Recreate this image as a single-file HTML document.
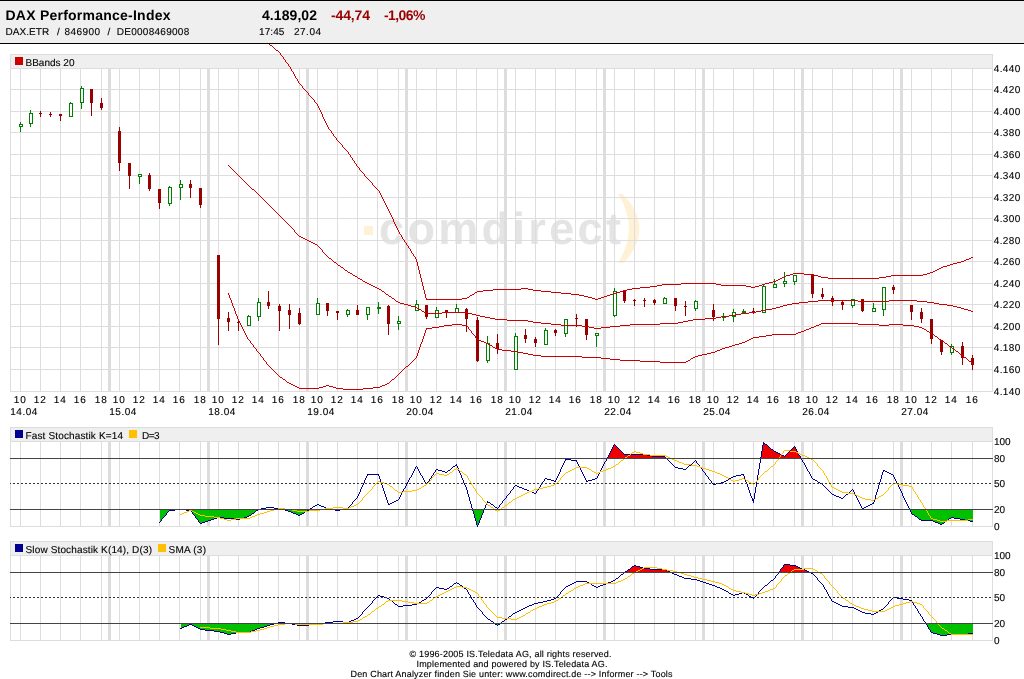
<!DOCTYPE html>
<html lang="de"><head><meta charset="utf-8"><title>DAX Performance-Index</title>
<style>html,body{margin:0;padding:0;background:#fff;overflow:hidden}svg{display:block;will-change:transform}text{font-family:"Liberation Sans",Arial,sans-serif;white-space:pre;text-rendering:geometricPrecision}</style></head>
<body>
<svg width="1024" height="679" viewBox="0 0 1024 679" font-family="'Liberation Sans', Arial, sans-serif" shape-rendering="crispEdges">
<rect x="0" y="0" width="1024" height="679" fill="#ffffff"/>
<g shape-rendering="auto">
<rect x="364" y="226" width="9" height="9" fill="#fff1d6"/>
<text x="379" y="243.5" font-size="45" font-weight="bold" fill="#e4e4e4" textLength="242" lengthAdjust="spacing">comdirect</text>
<path d="M618 194 L622.5 194 Q656 228 623.5 263 L618 263 Q640 228 618 194 Z" fill="#fff1d6"/>
</g>
<rect x="10" y="54" width="983" height="14" fill="#efefef"/>
<rect x="108" y="68" width="3" height="323" fill="#dddddd"/>
<rect x="207" y="68" width="3" height="323" fill="#dddddd"/>
<rect x="306" y="68" width="3" height="323" fill="#dddddd"/>
<rect x="405" y="68" width="3" height="323" fill="#dddddd"/>
<rect x="504" y="68" width="3" height="323" fill="#dddddd"/>
<rect x="603" y="68" width="3" height="323" fill="#dddddd"/>
<rect x="702" y="68" width="3" height="323" fill="#dddddd"/>
<rect x="801" y="68" width="3" height="323" fill="#dddddd"/>
<rect x="900" y="68" width="3" height="323" fill="#dddddd"/>
<rect x="20" y="68" width="1" height="323" fill="#dddddd"/>
<rect x="40" y="68" width="1" height="323" fill="#dddddd"/>
<rect x="60" y="68" width="1" height="323" fill="#dddddd"/>
<rect x="80" y="68" width="1" height="323" fill="#dddddd"/>
<rect x="101" y="68" width="1" height="323" fill="#dddddd"/>
<rect x="119" y="68" width="1" height="323" fill="#dddddd"/>
<rect x="139" y="68" width="1" height="323" fill="#dddddd"/>
<rect x="159" y="68" width="1" height="323" fill="#dddddd"/>
<rect x="179" y="68" width="1" height="323" fill="#dddddd"/>
<rect x="200" y="68" width="1" height="323" fill="#dddddd"/>
<rect x="218" y="68" width="1" height="323" fill="#dddddd"/>
<rect x="238" y="68" width="1" height="323" fill="#dddddd"/>
<rect x="258" y="68" width="1" height="323" fill="#dddddd"/>
<rect x="278" y="68" width="1" height="323" fill="#dddddd"/>
<rect x="299" y="68" width="1" height="323" fill="#dddddd"/>
<rect x="317" y="68" width="1" height="323" fill="#dddddd"/>
<rect x="337" y="68" width="1" height="323" fill="#dddddd"/>
<rect x="357" y="68" width="1" height="323" fill="#dddddd"/>
<rect x="377" y="68" width="1" height="323" fill="#dddddd"/>
<rect x="398" y="68" width="1" height="323" fill="#dddddd"/>
<rect x="416" y="68" width="1" height="323" fill="#dddddd"/>
<rect x="436" y="68" width="1" height="323" fill="#dddddd"/>
<rect x="456" y="68" width="1" height="323" fill="#dddddd"/>
<rect x="476" y="68" width="1" height="323" fill="#dddddd"/>
<rect x="497" y="68" width="1" height="323" fill="#dddddd"/>
<rect x="515" y="68" width="1" height="323" fill="#dddddd"/>
<rect x="535" y="68" width="1" height="323" fill="#dddddd"/>
<rect x="555" y="68" width="1" height="323" fill="#dddddd"/>
<rect x="575" y="68" width="1" height="323" fill="#dddddd"/>
<rect x="596" y="68" width="1" height="323" fill="#dddddd"/>
<rect x="614" y="68" width="1" height="323" fill="#dddddd"/>
<rect x="634" y="68" width="1" height="323" fill="#dddddd"/>
<rect x="654" y="68" width="1" height="323" fill="#dddddd"/>
<rect x="674" y="68" width="1" height="323" fill="#dddddd"/>
<rect x="695" y="68" width="1" height="323" fill="#dddddd"/>
<rect x="713" y="68" width="1" height="323" fill="#dddddd"/>
<rect x="733" y="68" width="1" height="323" fill="#dddddd"/>
<rect x="753" y="68" width="1" height="323" fill="#dddddd"/>
<rect x="773" y="68" width="1" height="323" fill="#dddddd"/>
<rect x="794" y="68" width="1" height="323" fill="#dddddd"/>
<rect x="812" y="68" width="1" height="323" fill="#dddddd"/>
<rect x="832" y="68" width="1" height="323" fill="#dddddd"/>
<rect x="852" y="68" width="1" height="323" fill="#dddddd"/>
<rect x="872" y="68" width="1" height="323" fill="#dddddd"/>
<rect x="893" y="68" width="1" height="323" fill="#dddddd"/>
<rect x="911" y="68" width="1" height="323" fill="#dddddd"/>
<rect x="931" y="68" width="1" height="323" fill="#dddddd"/>
<rect x="951" y="68" width="1" height="323" fill="#dddddd"/>
<rect x="972" y="68" width="1" height="323" fill="#dddddd"/>
<rect x="10" y="89" width="983" height="1" fill="#dddddd"/>
<rect x="10" y="111" width="983" height="1" fill="#dddddd"/>
<rect x="10" y="132" width="983" height="1" fill="#dddddd"/>
<rect x="10" y="154" width="983" height="1" fill="#dddddd"/>
<rect x="10" y="175" width="983" height="1" fill="#dddddd"/>
<rect x="10" y="197" width="983" height="1" fill="#dddddd"/>
<rect x="10" y="218" width="983" height="1" fill="#dddddd"/>
<rect x="10" y="240" width="983" height="1" fill="#dddddd"/>
<rect x="10" y="261" width="983" height="1" fill="#dddddd"/>
<rect x="10" y="283" width="983" height="1" fill="#dddddd"/>
<rect x="10" y="304" width="983" height="1" fill="#dddddd"/>
<rect x="10" y="326" width="983" height="1" fill="#dddddd"/>
<rect x="10" y="347" width="983" height="1" fill="#dddddd"/>
<rect x="10" y="369" width="983" height="1" fill="#dddddd"/>
<rect x="10" y="54" width="983" height="1" fill="#dddddd"/>
<rect x="10" y="68" width="983" height="1" fill="#dddddd"/>
<rect x="10" y="391" width="983" height="1" fill="#dddddd"/>
<rect x="10" y="54" width="1" height="338" fill="#dddddd"/>
<rect x="992" y="54" width="1" height="338" fill="#dddddd"/>
<rect x="20" y="122" width="1" height="10" fill="#008000"/>
<rect x="19" y="124" width="4" height="3" fill="#008000"/>
<rect x="20" y="125" width="2" height="1" fill="#ffffff"/>
<rect x="30" y="110" width="1" height="17" fill="#008000"/>
<rect x="29" y="113" width="4" height="11" fill="#008000"/>
<rect x="30" y="114" width="2" height="9" fill="#ffffff"/>
<rect x="40" y="111" width="1" height="6" fill="#990000"/>
<rect x="39" y="113" width="3" height="1" fill="#990000"/>
<rect x="50" y="112" width="1" height="5" fill="#990000"/>
<rect x="49" y="114" width="3" height="1" fill="#990000"/>
<rect x="60" y="114" width="1" height="7" fill="#990000"/>
<rect x="59" y="114" width="3" height="2" fill="#990000"/>
<rect x="70" y="102" width="1" height="15" fill="#008000"/>
<rect x="69" y="103" width="4" height="14" fill="#008000"/>
<rect x="70" y="104" width="2" height="12" fill="#ffffff"/>
<rect x="81" y="86" width="1" height="23" fill="#008000"/>
<rect x="80" y="88" width="4" height="15" fill="#008000"/>
<rect x="81" y="89" width="2" height="13" fill="#ffffff"/>
<rect x="91" y="89" width="1" height="27" fill="#990000"/>
<rect x="90" y="89" width="3" height="14" fill="#990000"/>
<rect x="101" y="98" width="1" height="12" fill="#990000"/>
<rect x="100" y="103" width="3" height="5" fill="#990000"/>
<rect x="119" y="127" width="1" height="44" fill="#990000"/>
<rect x="118" y="131" width="3" height="32" fill="#990000"/>
<rect x="129" y="163" width="1" height="26" fill="#990000"/>
<rect x="128" y="163" width="3" height="13" fill="#990000"/>
<rect x="139" y="174" width="1" height="10" fill="#008000"/>
<rect x="138" y="174" width="4" height="3" fill="#008000"/>
<rect x="139" y="175" width="2" height="1" fill="#ffffff"/>
<rect x="149" y="173" width="1" height="18" fill="#990000"/>
<rect x="148" y="175" width="3" height="14" fill="#990000"/>
<rect x="159" y="189" width="1" height="20" fill="#990000"/>
<rect x="158" y="189" width="3" height="14" fill="#990000"/>
<rect x="169" y="186" width="1" height="20" fill="#008000"/>
<rect x="168" y="187" width="4" height="17" fill="#008000"/>
<rect x="169" y="188" width="2" height="15" fill="#ffffff"/>
<rect x="180" y="180" width="1" height="20" fill="#008000"/>
<rect x="179" y="184" width="4" height="4" fill="#008000"/>
<rect x="180" y="185" width="2" height="2" fill="#ffffff"/>
<rect x="190" y="180" width="1" height="18" fill="#990000"/>
<rect x="189" y="184" width="3" height="4" fill="#990000"/>
<rect x="200" y="188" width="1" height="20" fill="#990000"/>
<rect x="199" y="188" width="3" height="17" fill="#990000"/>
<rect x="218" y="255" width="1" height="90" fill="#990000"/>
<rect x="217" y="255" width="3" height="64" fill="#990000"/>
<rect x="228" y="312" width="1" height="19" fill="#990000"/>
<rect x="227" y="318" width="3" height="4" fill="#990000"/>
<rect x="238" y="320" width="1" height="11" fill="#990000"/>
<rect x="237" y="322" width="3" height="1" fill="#990000"/>
<rect x="248" y="315" width="1" height="11" fill="#008000"/>
<rect x="247" y="316" width="4" height="10" fill="#008000"/>
<rect x="248" y="317" width="2" height="8" fill="#ffffff"/>
<rect x="258" y="298" width="1" height="23" fill="#008000"/>
<rect x="257" y="302" width="4" height="15" fill="#008000"/>
<rect x="258" y="303" width="2" height="13" fill="#ffffff"/>
<rect x="268" y="291" width="1" height="18" fill="#990000"/>
<rect x="267" y="302" width="3" height="4" fill="#990000"/>
<rect x="279" y="304" width="1" height="27" fill="#990000"/>
<rect x="278" y="306" width="3" height="5" fill="#990000"/>
<rect x="289" y="304" width="1" height="25" fill="#990000"/>
<rect x="288" y="310" width="3" height="5" fill="#990000"/>
<rect x="299" y="308" width="1" height="17" fill="#990000"/>
<rect x="298" y="313" width="3" height="11" fill="#990000"/>
<rect x="317" y="298" width="1" height="17" fill="#008000"/>
<rect x="316" y="303" width="4" height="12" fill="#008000"/>
<rect x="317" y="304" width="2" height="10" fill="#ffffff"/>
<rect x="327" y="303" width="1" height="13" fill="#990000"/>
<rect x="326" y="303" width="3" height="8" fill="#990000"/>
<rect x="337" y="311" width="1" height="9" fill="#990000"/>
<rect x="336" y="311" width="3" height="2" fill="#990000"/>
<rect x="347" y="309" width="1" height="8" fill="#008000"/>
<rect x="346" y="310" width="4" height="5" fill="#008000"/>
<rect x="347" y="311" width="2" height="3" fill="#ffffff"/>
<rect x="357" y="305" width="1" height="10" fill="#990000"/>
<rect x="356" y="310" width="3" height="5" fill="#990000"/>
<rect x="367" y="307" width="1" height="13" fill="#008000"/>
<rect x="366" y="307" width="4" height="8" fill="#008000"/>
<rect x="367" y="308" width="2" height="6" fill="#ffffff"/>
<rect x="378" y="302" width="1" height="12" fill="#008000"/>
<rect x="377" y="307" width="4" height="2" fill="#008000"/>
<rect x="388" y="305" width="1" height="30" fill="#990000"/>
<rect x="387" y="306" width="3" height="18" fill="#990000"/>
<rect x="398" y="316" width="1" height="14" fill="#008000"/>
<rect x="397" y="321" width="4" height="3" fill="#008000"/>
<rect x="398" y="322" width="2" height="1" fill="#ffffff"/>
<rect x="416" y="300" width="1" height="11" fill="#008000"/>
<rect x="415" y="304" width="4" height="7" fill="#008000"/>
<rect x="416" y="305" width="2" height="5" fill="#ffffff"/>
<rect x="426" y="305" width="1" height="14" fill="#990000"/>
<rect x="425" y="305" width="3" height="12" fill="#990000"/>
<rect x="436" y="307" width="1" height="11" fill="#008000"/>
<rect x="435" y="310" width="4" height="8" fill="#008000"/>
<rect x="436" y="311" width="2" height="6" fill="#ffffff"/>
<rect x="446" y="310" width="1" height="8" fill="#990000"/>
<rect x="445" y="310" width="3" height="3" fill="#990000"/>
<rect x="456" y="304" width="1" height="9" fill="#008000"/>
<rect x="455" y="308" width="4" height="5" fill="#008000"/>
<rect x="456" y="309" width="2" height="3" fill="#ffffff"/>
<rect x="466" y="308" width="1" height="24" fill="#990000"/>
<rect x="465" y="309" width="3" height="10" fill="#990000"/>
<rect x="477" y="317" width="1" height="45" fill="#990000"/>
<rect x="476" y="320" width="3" height="41" fill="#990000"/>
<rect x="487" y="336" width="1" height="27" fill="#008000"/>
<rect x="486" y="343" width="4" height="18" fill="#008000"/>
<rect x="487" y="344" width="2" height="16" fill="#ffffff"/>
<rect x="497" y="334" width="1" height="20" fill="#990000"/>
<rect x="496" y="343" width="3" height="6" fill="#990000"/>
<rect x="515" y="333" width="1" height="37" fill="#008000"/>
<rect x="514" y="336" width="4" height="34" fill="#008000"/>
<rect x="515" y="337" width="2" height="32" fill="#ffffff"/>
<rect x="525" y="329" width="1" height="14" fill="#990000"/>
<rect x="524" y="335" width="3" height="4" fill="#990000"/>
<rect x="535" y="337" width="1" height="10" fill="#990000"/>
<rect x="534" y="339" width="3" height="4" fill="#990000"/>
<rect x="545" y="328" width="1" height="17" fill="#008000"/>
<rect x="544" y="330" width="4" height="15" fill="#008000"/>
<rect x="545" y="331" width="2" height="13" fill="#ffffff"/>
<rect x="555" y="329" width="1" height="7" fill="#990000"/>
<rect x="554" y="330" width="3" height="3" fill="#990000"/>
<rect x="565" y="319" width="1" height="18" fill="#008000"/>
<rect x="564" y="319" width="4" height="15" fill="#008000"/>
<rect x="565" y="320" width="2" height="13" fill="#ffffff"/>
<rect x="576" y="314" width="1" height="13" fill="#990000"/>
<rect x="575" y="318" width="3" height="1" fill="#990000"/>
<rect x="586" y="319" width="1" height="21" fill="#990000"/>
<rect x="585" y="319" width="3" height="16" fill="#990000"/>
<rect x="596" y="333" width="1" height="14" fill="#008000"/>
<rect x="595" y="333" width="4" height="3" fill="#008000"/>
<rect x="596" y="334" width="2" height="1" fill="#ffffff"/>
<rect x="614" y="288" width="1" height="29" fill="#008000"/>
<rect x="613" y="291" width="4" height="25" fill="#008000"/>
<rect x="614" y="292" width="2" height="23" fill="#ffffff"/>
<rect x="624" y="290" width="1" height="13" fill="#990000"/>
<rect x="623" y="290" width="3" height="11" fill="#990000"/>
<rect x="634" y="299" width="1" height="7" fill="#990000"/>
<rect x="633" y="300" width="3" height="1" fill="#990000"/>
<rect x="644" y="298" width="1" height="9" fill="#990000"/>
<rect x="643" y="300" width="3" height="1" fill="#990000"/>
<rect x="654" y="299" width="1" height="6" fill="#990000"/>
<rect x="653" y="300" width="3" height="3" fill="#990000"/>
<rect x="664" y="297" width="1" height="7" fill="#008000"/>
<rect x="663" y="298" width="4" height="6" fill="#008000"/>
<rect x="664" y="299" width="2" height="4" fill="#ffffff"/>
<rect x="675" y="298" width="1" height="13" fill="#990000"/>
<rect x="674" y="298" width="3" height="8" fill="#990000"/>
<rect x="685" y="301" width="1" height="15" fill="#990000"/>
<rect x="684" y="306" width="3" height="1" fill="#990000"/>
<rect x="695" y="300" width="1" height="11" fill="#008000"/>
<rect x="694" y="301" width="4" height="8" fill="#008000"/>
<rect x="695" y="302" width="2" height="6" fill="#ffffff"/>
<rect x="713" y="304" width="1" height="17" fill="#990000"/>
<rect x="712" y="310" width="3" height="7" fill="#990000"/>
<rect x="723" y="313" width="1" height="8" fill="#008000"/>
<rect x="722" y="316" width="4" height="2" fill="#008000"/>
<rect x="733" y="309" width="1" height="13" fill="#008000"/>
<rect x="732" y="312" width="4" height="5" fill="#008000"/>
<rect x="733" y="313" width="2" height="3" fill="#ffffff"/>
<rect x="743" y="309" width="1" height="5" fill="#008000"/>
<rect x="742" y="311" width="4" height="2" fill="#008000"/>
<rect x="753" y="308" width="1" height="6" fill="#990000"/>
<rect x="752" y="311" width="3" height="2" fill="#990000"/>
<rect x="763" y="285" width="1" height="28" fill="#008000"/>
<rect x="762" y="286" width="4" height="27" fill="#008000"/>
<rect x="763" y="287" width="2" height="25" fill="#ffffff"/>
<rect x="774" y="279" width="1" height="9" fill="#008000"/>
<rect x="773" y="284" width="4" height="4" fill="#008000"/>
<rect x="774" y="285" width="2" height="2" fill="#ffffff"/>
<rect x="784" y="272" width="1" height="15" fill="#008000"/>
<rect x="783" y="281" width="4" height="3" fill="#008000"/>
<rect x="784" y="282" width="2" height="1" fill="#ffffff"/>
<rect x="794" y="275" width="1" height="10" fill="#008000"/>
<rect x="793" y="275" width="4" height="7" fill="#008000"/>
<rect x="794" y="276" width="2" height="5" fill="#ffffff"/>
<rect x="812" y="274" width="1" height="24" fill="#990000"/>
<rect x="811" y="274" width="3" height="20" fill="#990000"/>
<rect x="822" y="288" width="1" height="11" fill="#990000"/>
<rect x="821" y="294" width="3" height="3" fill="#990000"/>
<rect x="832" y="296" width="1" height="10" fill="#990000"/>
<rect x="831" y="298" width="3" height="4" fill="#990000"/>
<rect x="842" y="301" width="1" height="9" fill="#990000"/>
<rect x="841" y="302" width="3" height="3" fill="#990000"/>
<rect x="852" y="299" width="1" height="9" fill="#008000"/>
<rect x="851" y="299" width="4" height="7" fill="#008000"/>
<rect x="852" y="300" width="2" height="5" fill="#ffffff"/>
<rect x="862" y="299" width="1" height="13" fill="#990000"/>
<rect x="861" y="299" width="3" height="12" fill="#990000"/>
<rect x="873" y="303" width="1" height="9" fill="#008000"/>
<rect x="872" y="308" width="4" height="4" fill="#008000"/>
<rect x="873" y="309" width="2" height="2" fill="#ffffff"/>
<rect x="883" y="287" width="1" height="29" fill="#008000"/>
<rect x="882" y="287" width="4" height="23" fill="#008000"/>
<rect x="883" y="288" width="2" height="21" fill="#ffffff"/>
<rect x="893" y="285" width="1" height="9" fill="#990000"/>
<rect x="892" y="287" width="3" height="3" fill="#990000"/>
<rect x="911" y="305" width="1" height="15" fill="#990000"/>
<rect x="910" y="305" width="3" height="7" fill="#990000"/>
<rect x="921" y="308" width="1" height="15" fill="#990000"/>
<rect x="920" y="312" width="3" height="7" fill="#990000"/>
<rect x="931" y="319" width="1" height="25" fill="#990000"/>
<rect x="930" y="319" width="3" height="20" fill="#990000"/>
<rect x="941" y="340" width="1" height="15" fill="#990000"/>
<rect x="940" y="340" width="3" height="12" fill="#990000"/>
<rect x="951" y="344" width="1" height="11" fill="#008000"/>
<rect x="950" y="346" width="4" height="7" fill="#008000"/>
<rect x="951" y="347" width="2" height="5" fill="#ffffff"/>
<rect x="962" y="342" width="1" height="23" fill="#990000"/>
<rect x="961" y="346" width="3" height="12" fill="#990000"/>
<rect x="972" y="355" width="1" height="15" fill="#990000"/>
<rect x="971" y="358" width="3" height="7" fill="#990000"/>
<path d="M425.5 294v4M418.5 266v4M421.5 278v4M393.5 219v3M424.5 290v4M417.5 262v4M423.5 286v4M420.5 274v4M322.5 114v3M419.5 270v4M422.5 282v4M416.5 259v3M228 10.5h1M229 11.5h1M230 12.5h2M232 13.5h1M233 14.5h1M234 15.5h1M235 16.5h2M237 17.5h1M238 18.5h1M239 19.5h1M240 20.5h1M241 21.5h1M242 22.5h2M244 23.5h1M245 24.5h1M246 25.5h1M247 26.5h1M248 27.5h1M249 28.5h1M250 29.5h2M252 30.5h1M253 31.5h1M254 32.5h1M255 33.5h2M257 34.5h1M258 35.5h1M259 36.5h1M260 37.5h2M262 38.5h1M263 39.5h1M264 40.5h1M265 41.5h2M267 42.5h1M268 43.5h1M269 44.5h1M270 45.5h2M272 46.5h1M273 47.5h1M274 48.5h1M275 49.5h1M276 50.5h2M278 51.5h1M279 52.5h1M280 53.5h1M280 54.5h1M281 55.5h1M282 56.5h1M283 57.5h1M283 58.5h1M284 59.5h1M285 60.5h1M285 61.5h1M286 62.5h1M287 63.5h1M288 64.5h1M288 65.5h1M289 66.5h1M290 67.5h1M290 68.5h1M291 69.5h1M291 70.5h1M292 71.5h1M293 72.5h1M293 73.5h1M294 74.5h1M294 75.5h1M295 76.5h1M295 77.5h1M296 78.5h1M297 79.5h1M297 80.5h1M298 81.5h1M298 82.5h1M299 83.5h1M300 84.5h1M301 85.5h1M302 86.5h1M302 87.5h1M303 88.5h1M304 89.5h1M305 90.5h1M306 91.5h1M307 92.5h1M308 93.5h1M308 94.5h1M309 95.5h1M310 96.5h1M311 97.5h1M312 98.5h1M313 99.5h1M314 100.5h1M314 101.5h1M315 102.5h1M316 103.5h1M317 104.5h1M317 105.5h1M318 106.5h1M318 107.5h1M319 108.5h1M319 109.5h1M320 110.5h1M320 111.5h1M321 112.5h1M321 113.5h1M323 117.5h1M323 118.5h1M324 119.5h1M324 120.5h1M325 121.5h1M325 122.5h1M326 123.5h1M326 124.5h1M327 125.5h1M327 126.5h1M328 127.5h1M328 128.5h1M329 129.5h1M330 130.5h1M331 131.5h1M331 132.5h1M332 133.5h1M333 134.5h1M333 135.5h1M334 136.5h1M335 137.5h1M336 138.5h1M336 139.5h1M337 140.5h1M338 141.5h1M339 142.5h1M340 143.5h1M341 144.5h1M342 145.5h1M342 146.5h1M343 147.5h1M344 148.5h1M345 149.5h1M346 150.5h1M347 151.5h1M348 152.5h1M348 153.5h1M349 154.5h1M350 155.5h1M350 156.5h1M351 157.5h1M352 158.5h1M352 159.5h1M353 160.5h1M354 161.5h1M354 162.5h1M355 163.5h1M356 164.5h1M356 165.5h1M357 166.5h1M358 167.5h1M359 168.5h1M359 169.5h1M360 170.5h1M361 171.5h1M362 172.5h1M363 173.5h1M364 174.5h1M364 175.5h1M365 176.5h1M366 177.5h1M367 178.5h1M368 179.5h1M369 180.5h1M370 181.5h1M371 182.5h1M372 183.5h1M372 184.5h1M373 185.5h1M374 186.5h1M375 187.5h1M376 188.5h1M377 189.5h1M378 190.5h1M379 191.5h1M379 192.5h1M380 193.5h1M380 194.5h1M381 195.5h1M381 196.5h1M382 197.5h1M382 198.5h1M383 199.5h1M383 200.5h1M384 201.5h1M384 202.5h1M385 203.5h1M385 204.5h1M386 205.5h1M386 206.5h1M387 207.5h1M387 208.5h1M388 209.5h1M388 210.5h1M389 211.5h1M389 212.5h1M390 213.5h1M390 214.5h1M391 215.5h1M391 216.5h1M392 217.5h1M392 218.5h1M394 222.5h1M394 223.5h1M395 224.5h1M395 225.5h1M396 226.5h1M396 227.5h1M397 228.5h1M397 229.5h1M398 230.5h1M398 231.5h1M399 232.5h1M399 233.5h1M400 234.5h1M401 235.5h1M401 236.5h1M402 237.5h1M402 238.5h1M403 239.5h1M404 240.5h1M404 241.5h1M405 242.5h1M406 243.5h1M406 244.5h1M407 245.5h1M408 246.5h1M408 247.5h1M409 248.5h1M410 249.5h1M410 250.5h1M411 251.5h1M411 252.5h1M412 253.5h1M413 254.5h1M413 255.5h1M414 256.5h1M415 257.5h1M971 257.5h2M415 258.5h1M969 258.5h2M966 259.5h3M964 260.5h2M961 261.5h3M957 262.5h4M953 263.5h4M950 264.5h3M947 265.5h3M943 266.5h4M941 267.5h2M939 268.5h2M937 269.5h2M935 270.5h2M933 271.5h2M930 272.5h3M793 273.5h11M927 273.5h3M790 274.5h3M804 274.5h10M923 274.5h4M786 275.5h4M814 275.5h4M891 275.5h32M784 276.5h2M818 276.5h3M886 276.5h5M782 277.5h2M821 277.5h7M879 277.5h7M780 278.5h2M828 278.5h51M778 279.5h2M776 280.5h2M773 281.5h3M769 282.5h4M681 283.5h35M765 283.5h4M662 284.5h19M716 284.5h5M762 284.5h3M657 285.5h5M721 285.5h25M759 285.5h3M650 286.5h7M746 286.5h5M755 286.5h4M640 287.5h10M751 287.5h4M521 288.5h7M632 288.5h8M493 289.5h28M528 289.5h5M627 289.5h5M483 290.5h10M533 290.5h8M623 290.5h4M477 291.5h6M541 291.5h10M620 291.5h3M475 292.5h2M551 292.5h10M616 292.5h4M474 293.5h1M561 293.5h10M613 293.5h3M472 294.5h2M571 294.5h8M610 294.5h3M470 295.5h2M579 295.5h5M607 295.5h3M469 296.5h1M584 296.5h4M604 296.5h3M467 297.5h2M588 297.5h4M601 297.5h3M426 298.5h1M462 298.5h5M592 298.5h3M598 298.5h3M426 299.5h36M595 299.5h3" fill="none" stroke="#cc0000" stroke-width="1"/>
<path d="M228 165.5h1M229 166.5h1M230 167.5h1M231 168.5h1M232 169.5h1M233 170.5h1M234 171.5h1M235 172.5h1M236 173.5h1M237 174.5h1M238 175.5h1M239 176.5h1M240 177.5h1M241 178.5h1M242 179.5h1M243 180.5h1M244 181.5h1M245 182.5h1M246 183.5h1M247 184.5h1M248 185.5h1M249 186.5h1M250 187.5h1M251 188.5h1M252 189.5h2M254 190.5h1M255 191.5h1M256 192.5h1M257 193.5h1M258 194.5h1M259 195.5h1M260 196.5h1M261 197.5h1M262 198.5h1M263 199.5h1M264 200.5h1M265 201.5h1M266 202.5h1M267 203.5h1M268 204.5h1M269 205.5h1M270 206.5h1M271 207.5h1M272 208.5h1M273 209.5h1M274 210.5h1M275 211.5h1M276 212.5h1M277 213.5h1M278 214.5h1M279 215.5h1M280 216.5h1M281 217.5h1M282 218.5h1M283 219.5h1M284 220.5h1M285 221.5h1M286 222.5h1M287 223.5h1M288 224.5h1M289 225.5h1M290 226.5h1M291 227.5h1M292 228.5h1M293 229.5h1M294 230.5h1M294 231.5h1M295 232.5h1M296 233.5h1M297 234.5h1M298 235.5h1M299 236.5h2M301 237.5h2M303 238.5h2M305 239.5h2M307 240.5h2M309 241.5h2M311 242.5h2M313 243.5h2M315 244.5h2M317 245.5h1M318 246.5h1M319 247.5h1M320 248.5h1M321 249.5h1M322 250.5h1M322 251.5h1M323 252.5h1M324 253.5h1M325 254.5h1M326 255.5h1M327 256.5h1M328 257.5h1M329 258.5h2M331 259.5h1M332 260.5h1M333 261.5h1M334 262.5h2M336 263.5h1M337 264.5h1M338 265.5h2M340 266.5h1M341 267.5h2M343 268.5h1M344 269.5h1M345 270.5h2M347 271.5h1M348 272.5h2M350 273.5h2M352 274.5h1M353 275.5h2M355 276.5h2M357 277.5h1M358 278.5h2M360 279.5h2M362 280.5h1M363 281.5h2M365 282.5h2M367 283.5h2M369 284.5h2M371 285.5h2M373 286.5h2M375 287.5h2M377 288.5h2M379 289.5h2M381 290.5h1M382 291.5h2M384 292.5h1M385 293.5h1M386 294.5h2M388 295.5h1M389 296.5h2M391 297.5h1M392 298.5h2M394 299.5h1M395 300.5h1M818 300.5h40M889 300.5h28M396 301.5h2M808 301.5h10M858 301.5h31M917 301.5h10M398 302.5h2M799 302.5h9M927 302.5h7M400 303.5h4M792 303.5h7M934 303.5h5M404 304.5h4M787 304.5h5M939 304.5h8M408 305.5h3M783 305.5h4M947 305.5h6M411 306.5h4M780 306.5h3M953 306.5h4M415 307.5h2M776 307.5h4M957 307.5h4M417 308.5h2M772 308.5h4M961 308.5h3M419 309.5h2M766 309.5h6M964 309.5h4M421 310.5h1M761 310.5h5M968 310.5h3M422 311.5h2M756 311.5h5M971 311.5h2M424 312.5h2M442 312.5h26M749 312.5h7M426 313.5h16M468 313.5h4M741 313.5h8M472 314.5h4M736 314.5h5M476 315.5h4M729 315.5h7M480 316.5h5M721 316.5h8M485 317.5h5M716 317.5h5M490 318.5h5M705 318.5h11M495 319.5h12M693 319.5h12M507 320.5h21M688 320.5h5M528 321.5h5M683 321.5h5M533 322.5h8M678 322.5h5M541 323.5h10M660 323.5h18M551 324.5h10M630 324.5h30M561 325.5h21M620 325.5h10M582 326.5h7M610 326.5h10M589 327.5h5M601 327.5h9M594 328.5h7" fill="none" stroke="#cc0000" stroke-width="1"/>
<path d="M231.5 300v3M420.5 344v3M419.5 347v3M237.5 316v3M422.5 339v3M418.5 350v3M229.5 295v3M417.5 353v3M235.5 311v3M425.5 330v3M234.5 308v3M424.5 333v3M423.5 336v3M232.5 303v3M228 293.5h1M228 294.5h1M230 298.5h1M230 299.5h1M233 306.5h1M233 307.5h1M236 314.5h1M236 315.5h1M238 319.5h1M238 320.5h1M239 321.5h1M239 322.5h1M240 323.5h1M821 323.5h37M240 324.5h1M452 324.5h10M819 324.5h2M858 324.5h21M889 324.5h14M241 325.5h1M444 325.5h8M462 325.5h5M816 325.5h3M879 325.5h10M903 325.5h11M241 326.5h1M439 326.5h5M467 326.5h1M814 326.5h2M914 326.5h5M242 327.5h1M432 327.5h7M468 327.5h1M811 327.5h3M919 327.5h3M242 328.5h1M426 328.5h6M468 328.5h1M809 328.5h2M922 328.5h2M243 329.5h1M426 329.5h1M469 329.5h1M806 329.5h3M924 329.5h2M243 330.5h1M470 330.5h1M804 330.5h2M926 330.5h1M244 331.5h1M471 331.5h1M801 331.5h3M927 331.5h2M244 332.5h1M471 332.5h1M798 332.5h3M929 332.5h2M245 333.5h1M472 333.5h1M796 333.5h2M931 333.5h1M245 334.5h1M473 334.5h1M772 334.5h24M932 334.5h2M246 335.5h1M474 335.5h1M766 335.5h6M934 335.5h1M246 336.5h1M475 336.5h1M759 336.5h7M935 336.5h2M247 337.5h1M475 337.5h1M753 337.5h6M937 337.5h1M247 338.5h1M476 338.5h1M751 338.5h2M938 338.5h1M248 339.5h1M477 339.5h2M749 339.5h2M939 339.5h2M249 340.5h1M479 340.5h2M747 340.5h2M941 340.5h1M250 341.5h1M481 341.5h3M745 341.5h2M942 341.5h2M250 342.5h1M421 342.5h1M484 342.5h2M742 342.5h3M944 342.5h1M251 343.5h1M421 343.5h1M486 343.5h2M739 343.5h3M945 343.5h2M252 344.5h1M488 344.5h2M735 344.5h4M947 344.5h1M253 345.5h1M490 345.5h2M732 345.5h3M948 345.5h1M253 346.5h1M492 346.5h1M729 346.5h3M949 346.5h2M254 347.5h1M493 347.5h2M725 347.5h4M951 347.5h1M255 348.5h1M495 348.5h2M722 348.5h3M952 348.5h2M256 349.5h1M497 349.5h5M720 349.5h2M954 349.5h1M256 350.5h1M502 350.5h9M717 350.5h3M955 350.5h1M257 351.5h1M511 351.5h7M715 351.5h2M956 351.5h2M258 352.5h1M518 352.5h5M711 352.5h4M958 352.5h1M259 353.5h1M523 353.5h5M707 353.5h4M959 353.5h1M260 354.5h1M528 354.5h5M702 354.5h5M960 354.5h2M260 355.5h1M533 355.5h8M698 355.5h4M962 355.5h1M261 356.5h1M416 356.5h1M541 356.5h41M695 356.5h3M963 356.5h1M262 357.5h1M416 357.5h1M582 357.5h19M693 357.5h2M964 357.5h2M263 358.5h1M415 358.5h1M601 358.5h9M691 358.5h2M966 358.5h1M263 359.5h1M414 359.5h1M610 359.5h10M690 359.5h1M967 359.5h1M264 360.5h1M413 360.5h1M620 360.5h20M688 360.5h2M968 360.5h1M265 361.5h1M412 361.5h1M640 361.5h20M686 361.5h2M969 361.5h2M266 362.5h1M411 362.5h1M660 362.5h26M971 362.5h1M266 363.5h1M410 363.5h1M972 363.5h1M267 364.5h1M409 364.5h1M268 365.5h1M408 365.5h1M269 366.5h1M406 366.5h2M270 367.5h1M405 367.5h1M271 368.5h1M404 368.5h1M272 369.5h1M403 369.5h1M273 370.5h1M402 370.5h1M274 371.5h1M401 371.5h1M275 372.5h1M400 372.5h1M276 373.5h1M399 373.5h1M277 374.5h1M398 374.5h1M278 375.5h1M397 375.5h1M279 376.5h1M396 376.5h1M280 377.5h2M395 377.5h1M282 378.5h1M394 378.5h1M283 379.5h2M392 379.5h2M285 380.5h1M391 380.5h1M286 381.5h1M390 381.5h1M287 382.5h2M389 382.5h1M289 383.5h2M387 383.5h2M291 384.5h2M385 384.5h2M293 385.5h2M326 385.5h3M382 385.5h3M295 386.5h2M323 386.5h3M329 386.5h4M380 386.5h2M297 387.5h2M319 387.5h4M333 387.5h3M373 387.5h7M299 388.5h20M336 388.5h7M363 388.5h10M343 389.5h20" fill="none" stroke="#cc0000" stroke-width="1"/>
<rect x="15" y="57" width="8" height="8" fill="#cc0000"/>
<text x="25.5" y="66" font-size="10" stroke="#000" stroke-width=".12" textLength="49" lengthAdjust="spacing">BBands 20</text>
<text x="993.8" y="71.6" font-size="10" stroke="#000" stroke-width=".12" textLength="26.4" lengthAdjust="spacing">4.440</text>
<text x="993.8" y="92.6" font-size="10" stroke="#000" stroke-width=".12" textLength="26.4" lengthAdjust="spacing">4.420</text>
<text x="993.8" y="114.6" font-size="10" stroke="#000" stroke-width=".12" textLength="26.4" lengthAdjust="spacing">4.400</text>
<text x="993.8" y="135.6" font-size="10" stroke="#000" stroke-width=".12" textLength="26.4" lengthAdjust="spacing">4.380</text>
<text x="993.8" y="157.6" font-size="10" stroke="#000" stroke-width=".12" textLength="26.4" lengthAdjust="spacing">4.360</text>
<text x="993.8" y="178.6" font-size="10" stroke="#000" stroke-width=".12" textLength="26.4" lengthAdjust="spacing">4.340</text>
<text x="993.8" y="200.6" font-size="10" stroke="#000" stroke-width=".12" textLength="26.4" lengthAdjust="spacing">4.320</text>
<text x="993.8" y="221.6" font-size="10" stroke="#000" stroke-width=".12" textLength="26.4" lengthAdjust="spacing">4.300</text>
<text x="993.8" y="243.6" font-size="10" stroke="#000" stroke-width=".12" textLength="26.4" lengthAdjust="spacing">4.280</text>
<text x="993.8" y="264.6" font-size="10" stroke="#000" stroke-width=".12" textLength="26.4" lengthAdjust="spacing">4.260</text>
<text x="993.8" y="286.6" font-size="10" stroke="#000" stroke-width=".12" textLength="26.4" lengthAdjust="spacing">4.240</text>
<text x="993.8" y="307.6" font-size="10" stroke="#000" stroke-width=".12" textLength="26.4" lengthAdjust="spacing">4.220</text>
<text x="993.8" y="329.6" font-size="10" stroke="#000" stroke-width=".12" textLength="26.4" lengthAdjust="spacing">4.200</text>
<text x="993.8" y="350.6" font-size="10" stroke="#000" stroke-width=".12" textLength="26.4" lengthAdjust="spacing">4.180</text>
<text x="993.8" y="372.6" font-size="10" stroke="#000" stroke-width=".12" textLength="26.4" lengthAdjust="spacing">4.160</text>
<text x="993.8" y="394.6" font-size="10" stroke="#000" stroke-width=".12" textLength="26.4" lengthAdjust="spacing">4.140</text>
<text x="13.7" y="403" font-size="10" stroke="#000" stroke-width=".12" textLength="12" lengthAdjust="spacing">10</text>
<text x="33.7" y="403" font-size="10" stroke="#000" stroke-width=".12" textLength="12" lengthAdjust="spacing">12</text>
<text x="53.7" y="403" font-size="10" stroke="#000" stroke-width=".12" textLength="12" lengthAdjust="spacing">14</text>
<text x="73.7" y="403" font-size="10" stroke="#000" stroke-width=".12" textLength="12" lengthAdjust="spacing">16</text>
<text x="94.7" y="403" font-size="10" stroke="#000" stroke-width=".12" textLength="12" lengthAdjust="spacing">18</text>
<text x="10.3" y="415" font-size="10" stroke="#000" stroke-width=".12" textLength="27" lengthAdjust="spacing">14.04</text>
<text x="112.7" y="403" font-size="10" stroke="#000" stroke-width=".12" textLength="12" lengthAdjust="spacing">10</text>
<text x="132.7" y="403" font-size="10" stroke="#000" stroke-width=".12" textLength="12" lengthAdjust="spacing">12</text>
<text x="152.7" y="403" font-size="10" stroke="#000" stroke-width=".12" textLength="12" lengthAdjust="spacing">14</text>
<text x="172.7" y="403" font-size="10" stroke="#000" stroke-width=".12" textLength="12" lengthAdjust="spacing">16</text>
<text x="193.7" y="403" font-size="10" stroke="#000" stroke-width=".12" textLength="12" lengthAdjust="spacing">18</text>
<text x="109.3" y="415" font-size="10" stroke="#000" stroke-width=".12" textLength="27" lengthAdjust="spacing">15.04</text>
<text x="211.7" y="403" font-size="10" stroke="#000" stroke-width=".12" textLength="12" lengthAdjust="spacing">10</text>
<text x="231.7" y="403" font-size="10" stroke="#000" stroke-width=".12" textLength="12" lengthAdjust="spacing">12</text>
<text x="251.7" y="403" font-size="10" stroke="#000" stroke-width=".12" textLength="12" lengthAdjust="spacing">14</text>
<text x="271.7" y="403" font-size="10" stroke="#000" stroke-width=".12" textLength="12" lengthAdjust="spacing">16</text>
<text x="292.7" y="403" font-size="10" stroke="#000" stroke-width=".12" textLength="12" lengthAdjust="spacing">18</text>
<text x="208.3" y="415" font-size="10" stroke="#000" stroke-width=".12" textLength="27" lengthAdjust="spacing">18.04</text>
<text x="310.7" y="403" font-size="10" stroke="#000" stroke-width=".12" textLength="12" lengthAdjust="spacing">10</text>
<text x="330.7" y="403" font-size="10" stroke="#000" stroke-width=".12" textLength="12" lengthAdjust="spacing">12</text>
<text x="350.7" y="403" font-size="10" stroke="#000" stroke-width=".12" textLength="12" lengthAdjust="spacing">14</text>
<text x="370.7" y="403" font-size="10" stroke="#000" stroke-width=".12" textLength="12" lengthAdjust="spacing">16</text>
<text x="391.7" y="403" font-size="10" stroke="#000" stroke-width=".12" textLength="12" lengthAdjust="spacing">18</text>
<text x="307.3" y="415" font-size="10" stroke="#000" stroke-width=".12" textLength="27" lengthAdjust="spacing">19.04</text>
<text x="409.7" y="403" font-size="10" stroke="#000" stroke-width=".12" textLength="12" lengthAdjust="spacing">10</text>
<text x="429.7" y="403" font-size="10" stroke="#000" stroke-width=".12" textLength="12" lengthAdjust="spacing">12</text>
<text x="449.7" y="403" font-size="10" stroke="#000" stroke-width=".12" textLength="12" lengthAdjust="spacing">14</text>
<text x="469.7" y="403" font-size="10" stroke="#000" stroke-width=".12" textLength="12" lengthAdjust="spacing">16</text>
<text x="490.7" y="403" font-size="10" stroke="#000" stroke-width=".12" textLength="12" lengthAdjust="spacing">18</text>
<text x="406.3" y="415" font-size="10" stroke="#000" stroke-width=".12" textLength="27" lengthAdjust="spacing">20.04</text>
<text x="508.7" y="403" font-size="10" stroke="#000" stroke-width=".12" textLength="12" lengthAdjust="spacing">10</text>
<text x="528.7" y="403" font-size="10" stroke="#000" stroke-width=".12" textLength="12" lengthAdjust="spacing">12</text>
<text x="548.7" y="403" font-size="10" stroke="#000" stroke-width=".12" textLength="12" lengthAdjust="spacing">14</text>
<text x="568.7" y="403" font-size="10" stroke="#000" stroke-width=".12" textLength="12" lengthAdjust="spacing">16</text>
<text x="589.7" y="403" font-size="10" stroke="#000" stroke-width=".12" textLength="12" lengthAdjust="spacing">18</text>
<text x="505.3" y="415" font-size="10" stroke="#000" stroke-width=".12" textLength="27" lengthAdjust="spacing">21.04</text>
<text x="607.7" y="403" font-size="10" stroke="#000" stroke-width=".12" textLength="12" lengthAdjust="spacing">10</text>
<text x="627.7" y="403" font-size="10" stroke="#000" stroke-width=".12" textLength="12" lengthAdjust="spacing">12</text>
<text x="647.7" y="403" font-size="10" stroke="#000" stroke-width=".12" textLength="12" lengthAdjust="spacing">14</text>
<text x="667.7" y="403" font-size="10" stroke="#000" stroke-width=".12" textLength="12" lengthAdjust="spacing">16</text>
<text x="688.7" y="403" font-size="10" stroke="#000" stroke-width=".12" textLength="12" lengthAdjust="spacing">18</text>
<text x="604.3" y="415" font-size="10" stroke="#000" stroke-width=".12" textLength="27" lengthAdjust="spacing">22.04</text>
<text x="706.7" y="403" font-size="10" stroke="#000" stroke-width=".12" textLength="12" lengthAdjust="spacing">10</text>
<text x="726.7" y="403" font-size="10" stroke="#000" stroke-width=".12" textLength="12" lengthAdjust="spacing">12</text>
<text x="746.7" y="403" font-size="10" stroke="#000" stroke-width=".12" textLength="12" lengthAdjust="spacing">14</text>
<text x="766.7" y="403" font-size="10" stroke="#000" stroke-width=".12" textLength="12" lengthAdjust="spacing">16</text>
<text x="787.7" y="403" font-size="10" stroke="#000" stroke-width=".12" textLength="12" lengthAdjust="spacing">18</text>
<text x="703.3" y="415" font-size="10" stroke="#000" stroke-width=".12" textLength="27" lengthAdjust="spacing">25.04</text>
<text x="805.7" y="403" font-size="10" stroke="#000" stroke-width=".12" textLength="12" lengthAdjust="spacing">10</text>
<text x="825.7" y="403" font-size="10" stroke="#000" stroke-width=".12" textLength="12" lengthAdjust="spacing">12</text>
<text x="845.7" y="403" font-size="10" stroke="#000" stroke-width=".12" textLength="12" lengthAdjust="spacing">14</text>
<text x="865.7" y="403" font-size="10" stroke="#000" stroke-width=".12" textLength="12" lengthAdjust="spacing">16</text>
<text x="886.7" y="403" font-size="10" stroke="#000" stroke-width=".12" textLength="12" lengthAdjust="spacing">18</text>
<text x="802.3" y="415" font-size="10" stroke="#000" stroke-width=".12" textLength="27" lengthAdjust="spacing">26.04</text>
<text x="904.7" y="403" font-size="10" stroke="#000" stroke-width=".12" textLength="12" lengthAdjust="spacing">10</text>
<text x="924.7" y="403" font-size="10" stroke="#000" stroke-width=".12" textLength="12" lengthAdjust="spacing">12</text>
<text x="944.7" y="403" font-size="10" stroke="#000" stroke-width=".12" textLength="12" lengthAdjust="spacing">14</text>
<text x="965.7" y="403" font-size="10" stroke="#000" stroke-width=".12" textLength="12" lengthAdjust="spacing">16</text>
<text x="901.3" y="415" font-size="10" stroke="#000" stroke-width=".12" textLength="27" lengthAdjust="spacing">27.04</text>
<rect x="0" y="0" width="1024" height="44" fill="#efefef"/>
<rect x="0" y="0" width="1024" height="1" fill="#000000"/>
<rect x="0" y="43" width="1024" height="1" fill="#000000"/>
<text x="5.5" y="20" font-size="14" font-weight="bold" textLength="165" lengthAdjust="spacing">DAX Performance-Index</text>
<text x="5.5" y="35" font-size="10" stroke="#000" stroke-width=".12" textLength="43.7" lengthAdjust="spacing">DAX.ETR</text>
<text x="57" y="35" font-size="10" stroke="#000" stroke-width=".12">/</text>
<text x="64.5" y="35" font-size="10" stroke="#000" stroke-width=".12" textLength="35.5" lengthAdjust="spacing">846900</text>
<text x="107.5" y="35" font-size="10" stroke="#000" stroke-width=".12">/</text>
<text x="116.7" y="35" font-size="10" stroke="#000" stroke-width=".12" textLength="72.5" lengthAdjust="spacing">DE0008469008</text>
<text x="262" y="20" font-size="14" font-weight="bold" textLength="55" lengthAdjust="spacing">4.189,02</text>
<text x="331" y="20" font-size="14" font-weight="bold" fill="#990000" textLength="39" lengthAdjust="spacing">-44,74</text>
<text x="384" y="20" font-size="14" font-weight="bold" fill="#990000" textLength="41.5" lengthAdjust="spacing">-1,06%</text>
<text x="259" y="35" font-size="10" stroke="#000" stroke-width=".12" textLength="25.4" lengthAdjust="spacing">17:45</text>
<text x="294" y="35" font-size="10" stroke="#000" stroke-width=".12" textLength="27" lengthAdjust="spacing">27.04</text>
<rect x="10" y="427" width="983" height="14" fill="#efefef"/>
<rect x="108" y="441" width="3" height="85" fill="#dddddd"/>
<rect x="207" y="441" width="3" height="85" fill="#dddddd"/>
<rect x="306" y="441" width="3" height="85" fill="#dddddd"/>
<rect x="405" y="441" width="3" height="85" fill="#dddddd"/>
<rect x="504" y="441" width="3" height="85" fill="#dddddd"/>
<rect x="603" y="441" width="3" height="85" fill="#dddddd"/>
<rect x="702" y="441" width="3" height="85" fill="#dddddd"/>
<rect x="801" y="441" width="3" height="85" fill="#dddddd"/>
<rect x="900" y="441" width="3" height="85" fill="#dddddd"/>
<rect x="20" y="441" width="1" height="85" fill="#dddddd"/>
<rect x="40" y="441" width="1" height="85" fill="#dddddd"/>
<rect x="60" y="441" width="1" height="85" fill="#dddddd"/>
<rect x="80" y="441" width="1" height="85" fill="#dddddd"/>
<rect x="101" y="441" width="1" height="85" fill="#dddddd"/>
<rect x="119" y="441" width="1" height="85" fill="#dddddd"/>
<rect x="139" y="441" width="1" height="85" fill="#dddddd"/>
<rect x="159" y="441" width="1" height="85" fill="#dddddd"/>
<rect x="179" y="441" width="1" height="85" fill="#dddddd"/>
<rect x="200" y="441" width="1" height="85" fill="#dddddd"/>
<rect x="218" y="441" width="1" height="85" fill="#dddddd"/>
<rect x="238" y="441" width="1" height="85" fill="#dddddd"/>
<rect x="258" y="441" width="1" height="85" fill="#dddddd"/>
<rect x="278" y="441" width="1" height="85" fill="#dddddd"/>
<rect x="299" y="441" width="1" height="85" fill="#dddddd"/>
<rect x="317" y="441" width="1" height="85" fill="#dddddd"/>
<rect x="337" y="441" width="1" height="85" fill="#dddddd"/>
<rect x="357" y="441" width="1" height="85" fill="#dddddd"/>
<rect x="377" y="441" width="1" height="85" fill="#dddddd"/>
<rect x="398" y="441" width="1" height="85" fill="#dddddd"/>
<rect x="416" y="441" width="1" height="85" fill="#dddddd"/>
<rect x="436" y="441" width="1" height="85" fill="#dddddd"/>
<rect x="456" y="441" width="1" height="85" fill="#dddddd"/>
<rect x="476" y="441" width="1" height="85" fill="#dddddd"/>
<rect x="497" y="441" width="1" height="85" fill="#dddddd"/>
<rect x="515" y="441" width="1" height="85" fill="#dddddd"/>
<rect x="535" y="441" width="1" height="85" fill="#dddddd"/>
<rect x="555" y="441" width="1" height="85" fill="#dddddd"/>
<rect x="575" y="441" width="1" height="85" fill="#dddddd"/>
<rect x="596" y="441" width="1" height="85" fill="#dddddd"/>
<rect x="614" y="441" width="1" height="85" fill="#dddddd"/>
<rect x="634" y="441" width="1" height="85" fill="#dddddd"/>
<rect x="654" y="441" width="1" height="85" fill="#dddddd"/>
<rect x="674" y="441" width="1" height="85" fill="#dddddd"/>
<rect x="695" y="441" width="1" height="85" fill="#dddddd"/>
<rect x="713" y="441" width="1" height="85" fill="#dddddd"/>
<rect x="733" y="441" width="1" height="85" fill="#dddddd"/>
<rect x="753" y="441" width="1" height="85" fill="#dddddd"/>
<rect x="773" y="441" width="1" height="85" fill="#dddddd"/>
<rect x="794" y="441" width="1" height="85" fill="#dddddd"/>
<rect x="812" y="441" width="1" height="85" fill="#dddddd"/>
<rect x="832" y="441" width="1" height="85" fill="#dddddd"/>
<rect x="852" y="441" width="1" height="85" fill="#dddddd"/>
<rect x="872" y="441" width="1" height="85" fill="#dddddd"/>
<rect x="893" y="441" width="1" height="85" fill="#dddddd"/>
<rect x="911" y="441" width="1" height="85" fill="#dddddd"/>
<rect x="931" y="441" width="1" height="85" fill="#dddddd"/>
<rect x="951" y="441" width="1" height="85" fill="#dddddd"/>
<rect x="972" y="441" width="1" height="85" fill="#dddddd"/>
<rect x="10" y="427" width="983" height="1" fill="#dddddd"/>
<rect x="10" y="441" width="983" height="1" fill="#dddddd"/>
<rect x="10" y="526" width="983" height="1" fill="#dddddd"/>
<rect x="10" y="427" width="1" height="100" fill="#dddddd"/>
<rect x="992" y="427" width="1" height="100" fill="#dddddd"/>
<polygon points="159.5,509.5 159.5,522.5 169.5,510.3 176.6,509.5" fill="#00c000"/>
<polygon points="183.8,509.5 190.5,510.4 200.5,523.1 218.5,517.2 228.5,518.4 238.5,519.3 248.5,516.1 258.2,509.5" fill="#00c000"/>
<polygon points="281.8,509.5 289.5,511.5 299.5,515.3 309,509.5" fill="#00c000"/>
<polygon points="332.8,509.5 337.5,510.3 341.2,509.5" fill="#00c000"/>
<polygon points="472.7,509.5 477.5,526.2 484.2,509.5" fill="#00c000"/>
<polygon points="909.6,509.5 911.5,513.6 921.5,520.2 931.5,520.2 941.5,524.1 951.5,517.2 962.5,519.5 972.5,521.2 972.5,509.5" fill="#00c000"/>
<polygon points="607.1,458.5 614.5,444.6 624.5,454.2 634.5,454.2 644.5,454.6 654.5,456.2 664.5,456.2 666.8,458.5" fill="#ee0000"/>
<polygon points="760.9,458.5 763.5,442.7 774.5,451.3 784.5,456.5 794.5,446.6 801.1,458.5" fill="#ee0000"/>
<path d="M749.5 490v3M875.5 495v4M757.5 475v6M483.5 510v3M758.5 469v6M381.5 482v3M468.5 494v3M762.5 445v6M874.5 499v3M384.5 491v3M458.5 468v3M878.5 485v4M471.5 504v4M753.5 499v4M474.5 514v4M882.5 472v3M761.5 451v6M745.5 479v3M560.5 469v3M467.5 490v4M387.5 500v3M485.5 505v3M756.5 481v6M380.5 479v3M364.5 480v3M755.5 487v6M881.5 475v4M744.5 476v3M760.5 457v6M383.5 488v3M877.5 489v3M481.5 515v3M473.5 511v3M748.5 487v3M876.5 492v3M752.5 498v3M470.5 501v3M463.5 480v3M466.5 487v3M469.5 497v4M386.5 497v3M379.5 476v3M476.5 521v4M759.5 463v6M360.5 489v3M754.5 493v6M880.5 479v3M382.5 485v3M763.5 442v3M879.5 482v3M902.5 493v3M747.5 484v3M385.5 494v3M475.5 518v3M461.5 475v3M479.5 520v3M472.5 508v3M750.5 493v3M764 443.5h1M614 444.5h1M765 444.5h2M613 445.5h1M615 445.5h1M767 445.5h1M613 446.5h1M616 446.5h1M768 446.5h1M794 446.5h1M612 447.5h1M617 447.5h1M769 447.5h1M793 447.5h1M795 447.5h1M612 448.5h1M618 448.5h1M770 448.5h1M792 448.5h1M795 448.5h1M611 449.5h1M619 449.5h1M771 449.5h2M791 449.5h1M796 449.5h1M611 450.5h1M620 450.5h1M773 450.5h1M790 450.5h1M796 450.5h1M610 451.5h1M621 451.5h1M774 451.5h2M789 451.5h1M797 451.5h1M610 452.5h1M622 452.5h1M776 452.5h2M788 452.5h1M797 452.5h1M609 453.5h1M623 453.5h1M778 453.5h2M787 453.5h1M798 453.5h1M609 454.5h1M624 454.5h23M780 454.5h2M786 454.5h1M798 454.5h1M608 455.5h1M647 455.5h5M782 455.5h2M785 455.5h1M799 455.5h1M608 456.5h1M652 456.5h13M784 456.5h1M800 456.5h1M607 457.5h1M665 457.5h1M800 457.5h1M607 458.5h1M666 458.5h1M801 458.5h1M565 459.5h6M606 459.5h1M667 459.5h1M801 459.5h1M565 460.5h1M571 460.5h6M606 460.5h1M668 460.5h1M695 460.5h1M802 460.5h1M564 461.5h1M576 461.5h1M605 461.5h1M669 461.5h1M694 461.5h1M696 461.5h1M802 461.5h1M564 462.5h1M577 462.5h1M604 462.5h1M670 462.5h1M693 462.5h1M696 462.5h1M803 462.5h1M563 463.5h1M577 463.5h1M604 463.5h1M671 463.5h1M692 463.5h1M697 463.5h1M804 463.5h1M456 464.5h1M563 464.5h1M578 464.5h1M603 464.5h1M672 464.5h1M691 464.5h1M698 464.5h1M804 464.5h1M455 465.5h2M562 465.5h1M578 465.5h1M603 465.5h1M673 465.5h1M689 465.5h2M699 465.5h1M805 465.5h1M416 466.5h1M453 466.5h2M457 466.5h1M562 466.5h1M579 466.5h1M602 466.5h1M674 466.5h1M688 466.5h1M699 466.5h1M805 466.5h1M415 467.5h1M417 467.5h1M452 467.5h1M457 467.5h1M561 467.5h1M579 467.5h1M602 467.5h1M675 467.5h3M687 467.5h1M700 467.5h1M806 467.5h1M415 468.5h1M417 468.5h1M451 468.5h1M561 468.5h1M580 468.5h1M601 468.5h1M678 468.5h5M686 468.5h1M701 468.5h1M806 468.5h1M414 469.5h1M418 469.5h1M436 469.5h2M450 469.5h1M580 469.5h1M601 469.5h1M683 469.5h3M702 469.5h1M807 469.5h1M414 470.5h1M418 470.5h1M435 470.5h1M438 470.5h4M448 470.5h2M581 470.5h1M600 470.5h1M702 470.5h1M807 470.5h1M883 470.5h2M413 471.5h1M419 471.5h1M435 471.5h1M442 471.5h3M447 471.5h1M459 471.5h1M581 471.5h1M600 471.5h1M703 471.5h1M808 471.5h1M883 471.5h1M885 471.5h2M413 472.5h1M419 472.5h1M434 472.5h1M445 472.5h2M459 472.5h1M559 472.5h1M582 472.5h1M599 472.5h1M704 472.5h1M809 472.5h1M887 472.5h2M412 473.5h1M420 473.5h1M433 473.5h1M460 473.5h1M559 473.5h1M582 473.5h1M599 473.5h1M705 473.5h1M809 473.5h1M889 473.5h2M367 474.5h12M412 474.5h1M420 474.5h1M433 474.5h1M460 474.5h1M558 474.5h1M583 474.5h1M598 474.5h1M705 474.5h1M741 474.5h3M810 474.5h1M891 474.5h2M367 475.5h1M378 475.5h1M411 475.5h1M421 475.5h1M432 475.5h1M558 475.5h1M583 475.5h1M598 475.5h1M706 475.5h1M736 475.5h5M743 475.5h1M810 475.5h1M893 475.5h1M366 476.5h1M411 476.5h1M422 476.5h1M431 476.5h1M557 476.5h1M584 476.5h1M597 476.5h1M707 476.5h1M733 476.5h3M811 476.5h1M893 476.5h1M366 477.5h1M410 477.5h1M422 477.5h1M431 477.5h1M557 477.5h1M584 477.5h1M597 477.5h1M708 477.5h1M731 477.5h2M811 477.5h1M894 477.5h1M365 478.5h1M409 478.5h1M423 478.5h1M430 478.5h1M462 478.5h1M545 478.5h2M556 478.5h1M585 478.5h1M595 478.5h2M708 478.5h1M729 478.5h2M812 478.5h1M894 478.5h1M365 479.5h1M409 479.5h1M423 479.5h1M429 479.5h1M462 479.5h1M544 479.5h1M547 479.5h4M556 479.5h1M585 479.5h1M592 479.5h3M709 479.5h1M728 479.5h1M813 479.5h2M895 479.5h1M408 480.5h1M424 480.5h1M429 480.5h1M544 480.5h1M551 480.5h3M555 480.5h1M586 480.5h1M588 480.5h4M710 480.5h1M726 480.5h2M815 480.5h2M895 480.5h1M408 481.5h1M424 481.5h1M428 481.5h1M543 481.5h1M554 481.5h2M586 481.5h2M711 481.5h1M724 481.5h2M817 481.5h1M896 481.5h1M407 482.5h1M425 482.5h1M427 482.5h1M542 482.5h1M711 482.5h1M721 482.5h3M746 482.5h1M818 482.5h2M896 482.5h1M363 483.5h1M407 483.5h1M425 483.5h1M427 483.5h1M464 483.5h1M542 483.5h1M712 483.5h1M716 483.5h5M746 483.5h1M820 483.5h2M897 483.5h1M363 484.5h1M406 484.5h1M426 484.5h1M464 484.5h1M541 484.5h1M713 484.5h3M822 484.5h1M897 484.5h1M362 485.5h1M406 485.5h1M465 485.5h1M515 485.5h2M540 485.5h1M823 485.5h1M898 485.5h1M362 486.5h1M405 486.5h1M465 486.5h1M514 486.5h1M517 486.5h2M540 486.5h1M824 486.5h1M898 486.5h1M361 487.5h1M405 487.5h1M513 487.5h1M519 487.5h3M539 487.5h1M825 487.5h1M899 487.5h1M361 488.5h1M404 488.5h1M513 488.5h1M522 488.5h2M538 488.5h1M826 488.5h1M899 488.5h1M403 489.5h1M512 489.5h1M524 489.5h3M538 489.5h1M827 489.5h1M852 489.5h1M900 489.5h1M403 490.5h1M511 490.5h1M527 490.5h2M537 490.5h1M828 490.5h1M851 490.5h1M853 490.5h1M900 490.5h1M402 491.5h1M510 491.5h1M529 491.5h3M536 491.5h1M829 491.5h1M850 491.5h1M853 491.5h1M901 491.5h1M359 492.5h1M402 492.5h1M510 492.5h1M532 492.5h2M536 492.5h1M830 492.5h1M849 492.5h1M854 492.5h1M901 492.5h1M359 493.5h1M401 493.5h1M509 493.5h1M534 493.5h2M831 493.5h1M848 493.5h1M854 493.5h1M358 494.5h1M401 494.5h1M508 494.5h1M832 494.5h2M846 494.5h2M855 494.5h1M358 495.5h1M400 495.5h1M507 495.5h1M834 495.5h2M845 495.5h1M855 495.5h1M357 496.5h1M400 496.5h1M506 496.5h1M751 496.5h1M836 496.5h3M844 496.5h1M856 496.5h1M903 496.5h1M357 497.5h1M399 497.5h1M506 497.5h1M751 497.5h1M839 497.5h2M843 497.5h1M856 497.5h1M903 497.5h1M356 498.5h1M399 498.5h1M505 498.5h1M841 498.5h2M857 498.5h1M904 498.5h1M355 499.5h1M398 499.5h1M504 499.5h1M857 499.5h1M904 499.5h1M354 500.5h1M396 500.5h2M503 500.5h1M858 500.5h1M905 500.5h1M353 501.5h1M394 501.5h2M487 501.5h1M502 501.5h1M858 501.5h1M905 501.5h1M352 502.5h1M392 502.5h2M487 502.5h3M502 502.5h1M859 502.5h1M873 502.5h1M906 502.5h1M352 503.5h1M388 503.5h1M390 503.5h2M486 503.5h1M490 503.5h1M501 503.5h1M859 503.5h1M872 503.5h2M906 503.5h1M317 504.5h2M351 504.5h1M388 504.5h2M486 504.5h1M491 504.5h2M500 504.5h1M860 504.5h1M870 504.5h2M907 504.5h1M315 505.5h2M319 505.5h2M350 505.5h1M493 505.5h1M499 505.5h1M860 505.5h1M868 505.5h2M907 505.5h1M313 506.5h2M321 506.5h3M349 506.5h1M494 506.5h1M499 506.5h1M861 506.5h1M866 506.5h2M908 506.5h1M266 507.5h8M312 507.5h1M324 507.5h2M348 507.5h1M495 507.5h2M498 507.5h1M861 507.5h1M864 507.5h2M908 507.5h1M261 508.5h5M274 508.5h7M310 508.5h2M326 508.5h4M345 508.5h3M484 508.5h1M497 508.5h1M862 508.5h2M909 508.5h1M175 509.5h11M258 509.5h3M281 509.5h4M309 509.5h1M330 509.5h5M340 509.5h5M484 509.5h1M909 509.5h1M169 510.5h6M186 510.5h5M256 510.5h2M285 510.5h3M307 510.5h2M335 510.5h5M910 510.5h1M168 511.5h1M191 511.5h1M255 511.5h1M288 511.5h3M305 511.5h2M910 511.5h1M167 512.5h1M192 512.5h1M254 512.5h1M291 512.5h2M304 512.5h1M911 512.5h1M166 513.5h1M192 513.5h1M252 513.5h2M293 513.5h3M302 513.5h2M482 513.5h1M911 513.5h1M166 514.5h1M193 514.5h1M251 514.5h1M296 514.5h2M300 514.5h2M482 514.5h1M912 514.5h2M165 515.5h1M194 515.5h1M249 515.5h2M298 515.5h2M914 515.5h1M164 516.5h1M195 516.5h1M247 516.5h2M915 516.5h2M163 517.5h1M195 517.5h1M217 517.5h7M244 517.5h3M917 517.5h1M951 517.5h3M162 518.5h1M196 518.5h1M214 518.5h3M224 518.5h10M240 518.5h4M480 518.5h1M918 518.5h1M949 518.5h2M954 518.5h6M161 519.5h1M197 519.5h1M211 519.5h3M234 519.5h6M480 519.5h1M919 519.5h2M948 519.5h1M960 519.5h5M161 520.5h1M198 520.5h1M208 520.5h3M921 520.5h12M947 520.5h1M965 520.5h5M160 521.5h1M198 521.5h1M205 521.5h3M933 521.5h2M945 521.5h2M970 521.5h3M159 522.5h1M199 522.5h1M202 522.5h3M935 522.5h3M944 522.5h1M200 523.5h2M478 523.5h1M938 523.5h2M942 523.5h2M478 524.5h1M940 524.5h2M477 525.5h1M477 526.5h1" fill="none" stroke="#000090" stroke-width="1"/>
<path d="M784 450.5h6M634 451.5h2M783 451.5h1M790 451.5h6M632 452.5h2M636 452.5h4M783 452.5h1M796 452.5h2M631 453.5h1M640 453.5h3M782 453.5h1M798 453.5h2M630 454.5h1M643 454.5h7M781 454.5h1M800 454.5h2M628 455.5h2M650 455.5h16M780 455.5h1M802 455.5h3M627 456.5h1M666 456.5h2M780 456.5h1M805 456.5h2M625 457.5h2M668 457.5h2M779 457.5h1M807 457.5h2M624 458.5h1M670 458.5h2M778 458.5h1M809 458.5h2M623 459.5h1M672 459.5h2M778 459.5h1M811 459.5h2M621 460.5h2M674 460.5h3M777 460.5h1M813 460.5h1M620 461.5h1M677 461.5h2M776 461.5h1M814 461.5h1M619 462.5h1M679 462.5h3M775 462.5h1M815 462.5h1M618 463.5h1M682 463.5h2M775 463.5h1M816 463.5h1M616 464.5h2M684 464.5h7M774 464.5h1M817 464.5h1M615 465.5h1M691 465.5h6M773 465.5h1M817 465.5h1M613 466.5h2M697 466.5h3M771 466.5h2M818 466.5h1M576 467.5h11M611 467.5h2M700 467.5h3M770 467.5h1M819 467.5h1M456 468.5h1M574 468.5h2M587 468.5h2M608 468.5h3M703 468.5h3M769 468.5h1M820 468.5h1M454 469.5h2M457 469.5h2M572 469.5h2M589 469.5h2M606 469.5h2M706 469.5h3M768 469.5h1M821 469.5h1M453 470.5h1M459 470.5h1M570 470.5h2M591 470.5h1M603 470.5h3M709 470.5h3M767 470.5h1M822 470.5h1M452 471.5h1M460 471.5h2M568 471.5h2M592 471.5h2M600 471.5h3M712 471.5h3M765 471.5h2M823 471.5h1M450 472.5h2M462 472.5h1M566 472.5h2M594 472.5h2M598 472.5h2M715 472.5h2M764 472.5h1M823 472.5h1M436 473.5h3M449 473.5h1M463 473.5h1M565 473.5h1M596 473.5h2M717 473.5h3M763 473.5h1M824 473.5h1M435 474.5h1M439 474.5h5M447 474.5h2M464 474.5h2M564 474.5h1M720 474.5h2M762 474.5h1M824 474.5h1M434 475.5h1M444 475.5h3M466 475.5h1M563 475.5h1M722 475.5h2M761 475.5h1M825 475.5h1M433 476.5h1M467 476.5h1M562 476.5h1M724 476.5h2M760 476.5h1M826 476.5h1M432 477.5h1M467 477.5h1M561 477.5h1M726 477.5h2M759 477.5h1M826 477.5h1M431 478.5h1M468 478.5h1M560 478.5h1M728 478.5h1M742 478.5h2M758 478.5h1M827 478.5h1M431 479.5h1M468 479.5h1M560 479.5h1M729 479.5h2M739 479.5h3M744 479.5h2M758 479.5h1M827 479.5h1M430 480.5h1M469 480.5h1M559 480.5h1M731 480.5h2M735 480.5h4M746 480.5h2M757 480.5h1M828 480.5h1M378 481.5h2M429 481.5h1M470 481.5h1M558 481.5h1M733 481.5h2M748 481.5h1M756 481.5h1M828 481.5h1M377 482.5h1M380 482.5h4M428 482.5h1M470 482.5h1M557 482.5h1M749 482.5h2M755 482.5h1M829 482.5h1M376 483.5h1M384 483.5h3M427 483.5h1M471 483.5h1M556 483.5h1M751 483.5h2M754 483.5h1M830 483.5h1M893 483.5h4M375 484.5h1M387 484.5h2M426 484.5h1M471 484.5h1M554 484.5h2M753 484.5h1M830 484.5h1M892 484.5h1M897 484.5h6M374 485.5h1M389 485.5h1M424 485.5h2M472 485.5h1M551 485.5h3M831 485.5h1M891 485.5h1M903 485.5h6M373 486.5h1M390 486.5h2M422 486.5h2M473 486.5h1M547 486.5h4M831 486.5h1M890 486.5h1M909 486.5h3M372 487.5h1M392 487.5h1M421 487.5h1M473 487.5h1M543 487.5h4M832 487.5h2M889 487.5h1M912 487.5h1M372 488.5h1M393 488.5h1M419 488.5h2M474 488.5h1M538 488.5h5M834 488.5h2M888 488.5h1M912 488.5h1M371 489.5h1M394 489.5h1M417 489.5h2M475 489.5h1M534 489.5h4M836 489.5h2M888 489.5h1M913 489.5h1M370 490.5h1M395 490.5h2M412 490.5h5M475 490.5h1M532 490.5h2M838 490.5h2M887 490.5h1M913 490.5h1M369 491.5h1M397 491.5h1M403 491.5h9M476 491.5h1M529 491.5h3M840 491.5h2M886 491.5h1M914 491.5h1M368 492.5h1M398 492.5h5M476 492.5h1M527 492.5h2M842 492.5h6M885 492.5h1M915 492.5h1M367 493.5h1M477 493.5h1M525 493.5h2M848 493.5h6M884 493.5h1M915 493.5h1M366 494.5h1M478 494.5h1M523 494.5h2M854 494.5h2M883 494.5h1M916 494.5h1M365 495.5h1M479 495.5h1M521 495.5h2M856 495.5h2M881 495.5h2M917 495.5h1M364 496.5h1M480 496.5h1M519 496.5h2M858 496.5h2M879 496.5h2M917 496.5h1M363 497.5h1M481 497.5h1M517 497.5h2M860 497.5h2M878 497.5h1M918 497.5h1M362 498.5h1M482 498.5h1M515 498.5h2M862 498.5h3M876 498.5h2M918 498.5h1M362 499.5h1M482 499.5h1M513 499.5h2M865 499.5h6M874 499.5h2M919 499.5h1M361 500.5h1M483 500.5h1M512 500.5h1M871 500.5h3M920 500.5h1M360 501.5h1M484 501.5h1M511 501.5h1M920 501.5h1M359 502.5h1M485 502.5h1M509 502.5h2M921 502.5h1M358 503.5h1M486 503.5h1M508 503.5h1M922 503.5h1M356 504.5h2M487 504.5h1M507 504.5h1M922 504.5h1M354 505.5h2M488 505.5h2M505 505.5h2M923 505.5h1M351 506.5h3M490 506.5h1M504 506.5h1M923 506.5h1M333 507.5h10M349 507.5h2M491 507.5h2M502 507.5h2M924 507.5h1M278 508.5h7M325 508.5h8M343 508.5h6M493 508.5h1M501 508.5h1M925 508.5h1M274 509.5h4M285 509.5h7M320 509.5h5M494 509.5h1M500 509.5h1M925 509.5h1M189 510.5h3M270 510.5h4M292 510.5h5M309 510.5h11M495 510.5h2M498 510.5h2M926 510.5h1M187 511.5h2M192 511.5h2M267 511.5h3M297 511.5h12M497 511.5h1M927 511.5h1M184 512.5h3M194 512.5h2M264 512.5h3M927 512.5h1M182 513.5h2M196 513.5h2M260 513.5h4M928 513.5h1M180 514.5h2M198 514.5h2M257 514.5h3M928 514.5h1M200 515.5h5M255 515.5h2M929 515.5h1M205 516.5h9M252 516.5h3M930 516.5h1M214 517.5h6M250 517.5h2M930 517.5h1M220 518.5h4M236 518.5h14M931 518.5h2M224 519.5h3M231 519.5h5M933 519.5h4M968 519.5h5M227 520.5h4M937 520.5h3M947 520.5h21M940 521.5h7" fill="none" stroke="#ffc000" stroke-width="1"/>
<rect x="10" y="458" width="983" height="1" fill="#444444"/>
<rect x="10" y="509" width="983" height="1" fill="#444444"/>
<line x1="10" y1="483.5" x2="993" y2="483.5" stroke="#333" stroke-width="1" stroke-dasharray="2 2" stroke-dashoffset="1"/>
<rect x="15" y="430" width="8" height="8" fill="#000090"/>
<text x="25.5" y="439" font-size="10" stroke="#000" stroke-width=".12" textLength="97.5" lengthAdjust="spacing">Fast Stochastik K=14</text>
<rect x="129" y="430" width="8" height="8" fill="#ffc000"/>
<text x="142" y="439" font-size="10" stroke="#000" stroke-width=".12" textLength="17.5" lengthAdjust="spacing">D=3</text>
<text x="994" y="445" font-size="10" stroke="#000" stroke-width=".12">100</text>
<text x="994" y="462" font-size="10" stroke="#000" stroke-width=".12">80</text>
<text x="994" y="487" font-size="10" stroke="#000" stroke-width=".12">50</text>
<text x="994" y="513" font-size="10" stroke="#000" stroke-width=".12">20</text>
<text x="994" y="530" font-size="10" stroke="#000" stroke-width=".12">0</text>
<rect x="10" y="541" width="983" height="14" fill="#efefef"/>
<rect x="108" y="555" width="3" height="85" fill="#dddddd"/>
<rect x="207" y="555" width="3" height="85" fill="#dddddd"/>
<rect x="306" y="555" width="3" height="85" fill="#dddddd"/>
<rect x="405" y="555" width="3" height="85" fill="#dddddd"/>
<rect x="504" y="555" width="3" height="85" fill="#dddddd"/>
<rect x="603" y="555" width="3" height="85" fill="#dddddd"/>
<rect x="702" y="555" width="3" height="85" fill="#dddddd"/>
<rect x="801" y="555" width="3" height="85" fill="#dddddd"/>
<rect x="900" y="555" width="3" height="85" fill="#dddddd"/>
<rect x="20" y="555" width="1" height="85" fill="#dddddd"/>
<rect x="40" y="555" width="1" height="85" fill="#dddddd"/>
<rect x="60" y="555" width="1" height="85" fill="#dddddd"/>
<rect x="80" y="555" width="1" height="85" fill="#dddddd"/>
<rect x="101" y="555" width="1" height="85" fill="#dddddd"/>
<rect x="119" y="555" width="1" height="85" fill="#dddddd"/>
<rect x="139" y="555" width="1" height="85" fill="#dddddd"/>
<rect x="159" y="555" width="1" height="85" fill="#dddddd"/>
<rect x="179" y="555" width="1" height="85" fill="#dddddd"/>
<rect x="200" y="555" width="1" height="85" fill="#dddddd"/>
<rect x="218" y="555" width="1" height="85" fill="#dddddd"/>
<rect x="238" y="555" width="1" height="85" fill="#dddddd"/>
<rect x="258" y="555" width="1" height="85" fill="#dddddd"/>
<rect x="278" y="555" width="1" height="85" fill="#dddddd"/>
<rect x="299" y="555" width="1" height="85" fill="#dddddd"/>
<rect x="317" y="555" width="1" height="85" fill="#dddddd"/>
<rect x="337" y="555" width="1" height="85" fill="#dddddd"/>
<rect x="357" y="555" width="1" height="85" fill="#dddddd"/>
<rect x="377" y="555" width="1" height="85" fill="#dddddd"/>
<rect x="398" y="555" width="1" height="85" fill="#dddddd"/>
<rect x="416" y="555" width="1" height="85" fill="#dddddd"/>
<rect x="436" y="555" width="1" height="85" fill="#dddddd"/>
<rect x="456" y="555" width="1" height="85" fill="#dddddd"/>
<rect x="476" y="555" width="1" height="85" fill="#dddddd"/>
<rect x="497" y="555" width="1" height="85" fill="#dddddd"/>
<rect x="515" y="555" width="1" height="85" fill="#dddddd"/>
<rect x="535" y="555" width="1" height="85" fill="#dddddd"/>
<rect x="555" y="555" width="1" height="85" fill="#dddddd"/>
<rect x="575" y="555" width="1" height="85" fill="#dddddd"/>
<rect x="596" y="555" width="1" height="85" fill="#dddddd"/>
<rect x="614" y="555" width="1" height="85" fill="#dddddd"/>
<rect x="634" y="555" width="1" height="85" fill="#dddddd"/>
<rect x="654" y="555" width="1" height="85" fill="#dddddd"/>
<rect x="674" y="555" width="1" height="85" fill="#dddddd"/>
<rect x="695" y="555" width="1" height="85" fill="#dddddd"/>
<rect x="713" y="555" width="1" height="85" fill="#dddddd"/>
<rect x="733" y="555" width="1" height="85" fill="#dddddd"/>
<rect x="753" y="555" width="1" height="85" fill="#dddddd"/>
<rect x="773" y="555" width="1" height="85" fill="#dddddd"/>
<rect x="794" y="555" width="1" height="85" fill="#dddddd"/>
<rect x="812" y="555" width="1" height="85" fill="#dddddd"/>
<rect x="832" y="555" width="1" height="85" fill="#dddddd"/>
<rect x="852" y="555" width="1" height="85" fill="#dddddd"/>
<rect x="872" y="555" width="1" height="85" fill="#dddddd"/>
<rect x="893" y="555" width="1" height="85" fill="#dddddd"/>
<rect x="911" y="555" width="1" height="85" fill="#dddddd"/>
<rect x="931" y="555" width="1" height="85" fill="#dddddd"/>
<rect x="951" y="555" width="1" height="85" fill="#dddddd"/>
<rect x="972" y="555" width="1" height="85" fill="#dddddd"/>
<rect x="10" y="541" width="983" height="1" fill="#dddddd"/>
<rect x="10" y="555" width="983" height="1" fill="#dddddd"/>
<rect x="10" y="640" width="983" height="1" fill="#dddddd"/>
<rect x="10" y="541" width="1" height="100" fill="#dddddd"/>
<rect x="992" y="541" width="1" height="100" fill="#dddddd"/>
<polygon points="180.5,623.5 180.5,628.3 190.5,624.3 200.5,629.5 218.5,631.2 228.5,634.2 238.5,632.4 248.5,632.4 258.5,628 268.5,625.5 275.7,623.5" fill="#00c000"/>
<polygon points="288.7,623.5 289.5,623.6 299.5,625.5 317.5,624.3 321.2,623.5" fill="#00c000"/>
<polygon points="495,623.5 497.5,625.3 500,623.5" fill="#00c000"/>
<polygon points="926,623.5 931.5,632.2 941.5,635.1 951.5,634.2 962.5,634.2 972.5,633.2 972.5,623.5" fill="#00c000"/>
<polygon points="624.5,572.5 634.5,565.7 644.5,568.5 654.5,569.5 664.5,569.5 670.7,572.5" fill="#ee0000"/>
<polygon points="778.8,572.5 784.5,564.6 794.5,565.3 809.6,572.5" fill="#ee0000"/>
<path d="M784 564.5h6M634 565.5h2M783 565.5h1M790 565.5h6M632 566.5h2M636 566.5h4M783 566.5h1M796 566.5h2M631 567.5h1M640 567.5h3M782 567.5h1M798 567.5h2M630 568.5h1M643 568.5h7M781 568.5h1M800 568.5h2M628 569.5h2M650 569.5h16M780 569.5h1M802 569.5h3M627 570.5h1M666 570.5h2M780 570.5h1M805 570.5h2M625 571.5h2M668 571.5h2M779 571.5h1M807 571.5h2M624 572.5h1M670 572.5h2M778 572.5h1M809 572.5h2M623 573.5h1M672 573.5h2M778 573.5h1M811 573.5h2M621 574.5h2M674 574.5h3M777 574.5h1M813 574.5h1M620 575.5h1M677 575.5h2M776 575.5h1M814 575.5h1M619 576.5h1M679 576.5h3M775 576.5h1M815 576.5h1M618 577.5h1M682 577.5h2M775 577.5h1M816 577.5h1M616 578.5h2M684 578.5h7M774 578.5h1M817 578.5h1M615 579.5h1M691 579.5h6M773 579.5h1M817 579.5h1M613 580.5h2M697 580.5h3M771 580.5h2M818 580.5h1M576 581.5h11M611 581.5h2M700 581.5h3M770 581.5h1M819 581.5h1M456 582.5h1M574 582.5h2M587 582.5h2M608 582.5h3M703 582.5h3M769 582.5h1M820 582.5h1M454 583.5h2M457 583.5h2M572 583.5h2M589 583.5h2M606 583.5h2M706 583.5h3M768 583.5h1M821 583.5h1M453 584.5h1M459 584.5h1M570 584.5h2M591 584.5h1M603 584.5h3M709 584.5h3M767 584.5h1M822 584.5h1M452 585.5h1M460 585.5h2M568 585.5h2M592 585.5h2M600 585.5h3M712 585.5h3M765 585.5h2M823 585.5h1M450 586.5h2M462 586.5h1M566 586.5h2M594 586.5h2M598 586.5h2M715 586.5h2M764 586.5h1M823 586.5h1M436 587.5h3M449 587.5h1M463 587.5h1M565 587.5h1M596 587.5h2M717 587.5h3M763 587.5h1M824 587.5h1M435 588.5h1M439 588.5h5M447 588.5h2M464 588.5h2M564 588.5h1M720 588.5h2M762 588.5h1M824 588.5h1M434 589.5h1M444 589.5h3M466 589.5h1M563 589.5h1M722 589.5h2M761 589.5h1M825 589.5h1M433 590.5h1M467 590.5h1M562 590.5h1M724 590.5h2M760 590.5h1M826 590.5h1M432 591.5h1M467 591.5h1M561 591.5h1M726 591.5h2M759 591.5h1M826 591.5h1M431 592.5h1M468 592.5h1M560 592.5h1M728 592.5h1M742 592.5h2M758 592.5h1M827 592.5h1M431 593.5h1M468 593.5h1M560 593.5h1M729 593.5h2M739 593.5h3M744 593.5h2M758 593.5h1M827 593.5h1M430 594.5h1M469 594.5h1M559 594.5h1M731 594.5h2M735 594.5h4M746 594.5h2M757 594.5h1M828 594.5h1M378 595.5h2M429 595.5h1M470 595.5h1M558 595.5h1M733 595.5h2M748 595.5h1M756 595.5h1M828 595.5h1M377 596.5h1M380 596.5h4M428 596.5h1M470 596.5h1M557 596.5h1M749 596.5h2M755 596.5h1M829 596.5h1M376 597.5h1M384 597.5h3M427 597.5h1M471 597.5h1M556 597.5h1M751 597.5h2M754 597.5h1M830 597.5h1M893 597.5h4M375 598.5h1M387 598.5h2M426 598.5h1M471 598.5h1M554 598.5h2M753 598.5h1M830 598.5h1M892 598.5h1M897 598.5h6M374 599.5h1M389 599.5h1M424 599.5h2M472 599.5h1M551 599.5h3M831 599.5h1M891 599.5h1M903 599.5h6M373 600.5h1M390 600.5h2M422 600.5h2M473 600.5h1M547 600.5h4M831 600.5h1M890 600.5h1M909 600.5h3M372 601.5h1M392 601.5h1M421 601.5h1M473 601.5h1M543 601.5h4M832 601.5h2M889 601.5h1M912 601.5h1M372 602.5h1M393 602.5h1M419 602.5h2M474 602.5h1M538 602.5h5M834 602.5h2M888 602.5h1M912 602.5h1M371 603.5h1M394 603.5h1M417 603.5h2M475 603.5h1M534 603.5h4M836 603.5h2M888 603.5h1M913 603.5h1M370 604.5h1M395 604.5h2M412 604.5h5M475 604.5h1M532 604.5h2M838 604.5h2M887 604.5h1M913 604.5h1M369 605.5h1M397 605.5h1M403 605.5h9M476 605.5h1M529 605.5h3M840 605.5h2M886 605.5h1M914 605.5h1M368 606.5h1M398 606.5h5M476 606.5h1M527 606.5h2M842 606.5h6M885 606.5h1M915 606.5h1M367 607.5h1M477 607.5h1M525 607.5h2M848 607.5h6M884 607.5h1M915 607.5h1M366 608.5h1M478 608.5h1M523 608.5h2M854 608.5h2M883 608.5h1M916 608.5h1M365 609.5h1M479 609.5h1M521 609.5h2M856 609.5h2M881 609.5h2M917 609.5h1M364 610.5h1M480 610.5h1M519 610.5h2M858 610.5h2M879 610.5h2M917 610.5h1M363 611.5h1M481 611.5h1M517 611.5h2M860 611.5h2M878 611.5h1M918 611.5h1M362 612.5h1M482 612.5h1M515 612.5h2M862 612.5h3M876 612.5h2M918 612.5h1M362 613.5h1M482 613.5h1M513 613.5h2M865 613.5h6M874 613.5h2M919 613.5h1M361 614.5h1M483 614.5h1M512 614.5h1M871 614.5h3M920 614.5h1M360 615.5h1M484 615.5h1M511 615.5h1M920 615.5h1M359 616.5h1M485 616.5h1M509 616.5h2M921 616.5h1M358 617.5h1M486 617.5h1M508 617.5h1M922 617.5h1M356 618.5h2M487 618.5h1M507 618.5h1M922 618.5h1M354 619.5h2M488 619.5h2M505 619.5h2M923 619.5h1M351 620.5h3M490 620.5h1M504 620.5h1M923 620.5h1M333 621.5h10M349 621.5h2M491 621.5h2M502 621.5h2M924 621.5h1M278 622.5h7M325 622.5h8M343 622.5h6M493 622.5h1M501 622.5h1M925 622.5h1M274 623.5h4M285 623.5h7M320 623.5h5M494 623.5h1M500 623.5h1M925 623.5h1M189 624.5h3M270 624.5h4M292 624.5h5M309 624.5h11M495 624.5h2M498 624.5h2M926 624.5h1M187 625.5h2M192 625.5h2M267 625.5h3M297 625.5h12M497 625.5h1M927 625.5h1M184 626.5h3M194 626.5h2M264 626.5h3M927 626.5h1M182 627.5h2M196 627.5h2M260 627.5h4M928 627.5h1M180 628.5h2M198 628.5h2M257 628.5h3M928 628.5h1M200 629.5h5M255 629.5h2M929 629.5h1M205 630.5h9M252 630.5h3M930 630.5h1M214 631.5h6M250 631.5h2M930 631.5h1M220 632.5h4M236 632.5h14M931 632.5h2M224 633.5h3M231 633.5h5M933 633.5h4M968 633.5h5M227 634.5h4M937 634.5h3M947 634.5h21M940 635.5h7" fill="none" stroke="#000090" stroke-width="1"/>
<path d="M644 567.5h13M642 568.5h2M657 568.5h5M804 568.5h9M640 569.5h2M662 569.5h5M794 569.5h10M813 569.5h2M638 570.5h2M667 570.5h6M792 570.5h2M815 570.5h2M636 571.5h2M673 571.5h4M791 571.5h1M817 571.5h1M634 572.5h2M677 572.5h4M790 572.5h1M818 572.5h2M632 573.5h2M681 573.5h3M788 573.5h2M820 573.5h2M631 574.5h1M684 574.5h3M787 574.5h1M822 574.5h1M630 575.5h1M687 575.5h4M785 575.5h2M823 575.5h1M628 576.5h2M691 576.5h3M784 576.5h1M824 576.5h1M627 577.5h1M694 577.5h4M783 577.5h1M824 577.5h1M625 578.5h2M698 578.5h4M782 578.5h1M825 578.5h1M623 579.5h2M702 579.5h5M781 579.5h1M826 579.5h1M621 580.5h2M707 580.5h4M781 580.5h1M827 580.5h1M618 581.5h3M711 581.5h4M780 581.5h1M828 581.5h1M616 582.5h2M715 582.5h4M779 582.5h1M829 582.5h1M585 583.5h31M719 583.5h3M778 583.5h1M829 583.5h1M583 584.5h2M722 584.5h2M777 584.5h1M830 584.5h1M580 585.5h3M724 585.5h2M776 585.5h1M831 585.5h1M456 586.5h6M578 586.5h2M726 586.5h2M776 586.5h1M832 586.5h1M454 587.5h2M462 587.5h5M576 587.5h2M728 587.5h1M775 587.5h1M833 587.5h1M452 588.5h2M467 588.5h2M574 588.5h2M729 588.5h2M773 588.5h2M834 588.5h1M450 589.5h2M469 589.5h2M573 589.5h1M731 589.5h2M770 589.5h3M835 589.5h1M448 590.5h2M471 590.5h2M571 590.5h2M733 590.5h3M768 590.5h2M836 590.5h1M446 591.5h2M473 591.5h2M569 591.5h2M736 591.5h5M765 591.5h3M837 591.5h1M444 592.5h2M475 592.5h2M568 592.5h1M741 592.5h4M762 592.5h3M837 592.5h1M442 593.5h2M477 593.5h1M566 593.5h2M745 593.5h4M759 593.5h3M838 593.5h1M440 594.5h2M478 594.5h1M565 594.5h1M749 594.5h3M755 594.5h4M839 594.5h1M438 595.5h2M478 595.5h1M563 595.5h2M752 595.5h3M840 595.5h1M436 596.5h2M479 596.5h1M562 596.5h1M841 596.5h1M434 597.5h2M480 597.5h1M561 597.5h1M842 597.5h1M433 598.5h1M481 598.5h1M559 598.5h2M843 598.5h2M432 599.5h1M481 599.5h1M558 599.5h1M845 599.5h1M388 600.5h14M430 600.5h2M482 600.5h1M556 600.5h2M846 600.5h2M386 601.5h2M402 601.5h6M429 601.5h1M483 601.5h1M554 601.5h2M848 601.5h1M910 601.5h3M385 602.5h1M408 602.5h6M427 602.5h2M483 602.5h1M551 602.5h3M849 602.5h1M906 602.5h4M913 602.5h4M384 603.5h1M414 603.5h13M484 603.5h1M547 603.5h4M850 603.5h2M903 603.5h3M917 603.5h3M382 604.5h2M485 604.5h1M544 604.5h3M852 604.5h2M899 604.5h4M920 604.5h2M381 605.5h1M486 605.5h1M542 605.5h2M854 605.5h2M895 605.5h4M922 605.5h1M379 606.5h2M486 606.5h1M539 606.5h3M856 606.5h3M893 606.5h2M923 606.5h1M378 607.5h1M487 607.5h1M537 607.5h2M859 607.5h2M891 607.5h2M923 607.5h1M376 608.5h2M488 608.5h1M535 608.5h2M861 608.5h3M889 608.5h2M924 608.5h1M375 609.5h1M489 609.5h1M533 609.5h2M864 609.5h4M887 609.5h2M925 609.5h1M374 610.5h1M490 610.5h1M531 610.5h2M868 610.5h4M885 610.5h2M926 610.5h1M372 611.5h2M491 611.5h1M530 611.5h1M872 611.5h13M927 611.5h1M371 612.5h1M492 612.5h1M528 612.5h2M928 612.5h1M370 613.5h1M493 613.5h1M526 613.5h2M928 613.5h1M368 614.5h2M494 614.5h1M525 614.5h1M929 614.5h1M367 615.5h1M495 615.5h1M523 615.5h2M930 615.5h1M365 616.5h2M496 616.5h1M521 616.5h2M931 616.5h1M363 617.5h2M497 617.5h5M519 617.5h2M932 617.5h1M362 618.5h1M502 618.5h9M517 618.5h2M933 618.5h1M360 619.5h2M511 619.5h6M934 619.5h1M358 620.5h2M935 620.5h1M353 621.5h5M936 621.5h1M343 622.5h10M936 622.5h1M285 623.5h10M323 623.5h20M937 623.5h1M278 624.5h7M295 624.5h28M938 624.5h1M274 625.5h4M939 625.5h1M270 626.5h4M940 626.5h1M200 627.5h10M267 627.5h3M941 627.5h1M210 628.5h11M264 628.5h3M942 628.5h2M221 629.5h5M260 629.5h4M944 629.5h1M226 630.5h5M256 630.5h4M945 630.5h2M231 631.5h5M251 631.5h5M947 631.5h1M236 632.5h15M948 632.5h1M949 633.5h2M951 634.5h22" fill="none" stroke="#ffc000" stroke-width="1"/>
<rect x="10" y="572" width="983" height="1" fill="#444444"/>
<rect x="10" y="623" width="983" height="1" fill="#444444"/>
<line x1="10" y1="597.5" x2="993" y2="597.5" stroke="#333" stroke-width="1" stroke-dasharray="2 2" stroke-dashoffset="1"/>
<rect x="15" y="544" width="8" height="8" fill="#000090"/>
<text x="25.5" y="553" font-size="10" stroke="#000" stroke-width=".12" textLength="126.5" lengthAdjust="spacing">Slow Stochastik K(14), D(3)</text>
<rect x="158" y="544" width="8" height="8" fill="#ffc000"/>
<text x="168.5" y="553" font-size="10" stroke="#000" stroke-width=".12" textLength="37.5" lengthAdjust="spacing">SMA (3)</text>
<text x="994" y="559" font-size="10" stroke="#000" stroke-width=".12">100</text>
<text x="994" y="576" font-size="10" stroke="#000" stroke-width=".12">80</text>
<text x="994" y="601" font-size="10" stroke="#000" stroke-width=".12">50</text>
<text x="994" y="627" font-size="10" stroke="#000" stroke-width=".12">20</text>
<text x="994" y="644" font-size="10" stroke="#000" stroke-width=".12">0</text>
<text x="409.5" y="656.5" font-size="9" stroke="#000" stroke-width=".12" textLength="202" lengthAdjust="spacing">© 1996-2005 IS.Teledata AG, all rights reserved.</text>
<text x="416.5" y="667" font-size="9" stroke="#000" stroke-width=".12" textLength="191" lengthAdjust="spacing">Implemented and powered by IS.Teledata AG.</text>
<text x="350.5" y="677" font-size="9" stroke="#000" stroke-width=".12" textLength="322" lengthAdjust="spacing">Den Chart Analyzer finden Sie unter: www.comdirect.de --&gt; Informer --&gt; Tools</text>
</svg>
</body></html>
